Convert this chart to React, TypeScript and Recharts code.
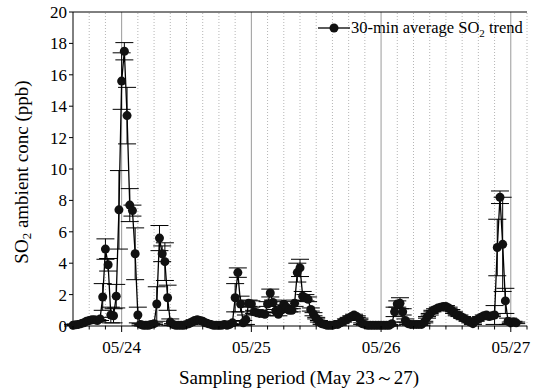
import {
  LineChart, Line, XAxis, YAxis, ErrorBar, ReferenceLine
} from 'recharts'

// 30-min averages, starting 05/23 15:00 (hours since start = index * 0.5)
const so2 = [
  0.05, 0.08, 0.1, 0.15, 0.2, 0.3, 0.35, 0.4, 0.4, 0.35,
  0.45, 1.85, 4.9, 3.9, 0.7, 0.65, 1.9, 7.4, 15.6, 17.5,
  13.4, 7.7, 7.35, 4.6, 0.7, 0.1, 0.05, 0.05, 0.05, 0.1,
  0.15, 1.4, 5.6, 4.6, 4.1, 1.8, 0.25, 0.1, 0.05, 0.05,
  0.05, 0.05, 0.1, 0.15, 0.25, 0.35, 0.4, 0.35, 0.3, 0.2,
  0.15, 0.1, 0.05, 0.05, 0.05, 0.05, 0.1, 0.05, 0.1, 0.2,
  1.8, 3.4, 1.4, 0.2, 0.4, 1.45, 1.4, 0.9, 0.85, 0.8,
  0.8, 0.75, 1.4, 2.1, 1.5, 0.95, 0.75, 1.0, 1.4, 1.2,
  1.0, 1.0, 1.45, 3.4, 3.7, 1.9, 1.8, 1.7, 1.05, 0.75,
  0.5, 0.3, 0.15, 0.1, 0.05, 0.05, 0.05, 0.1, 0.1, 0.2,
  0.3, 0.4, 0.5, 0.6, 0.7, 0.6, 0.45, 0.15, 0.1, 0.05,
  0.05, 0.05, 0.05, 0.05, 0.05, 0.05, 0.05, 0.05, 0.15, 0.9,
  1.4, 1.45, 0.9, 0.35, 0.15, 0.1, 0.1, 0.1, 0.1, 0.1,
  0.25, 0.55, 0.75, 0.95, 1.05, 1.15, 1.2, 1.25, 1.25, 1.15,
  1.0, 0.85, 0.7, 0.65, 0.55, 0.45, 0.35, 0.25, 0.15, 0.35,
  0.45, 0.55, 0.65, 0.7, 0.6, 0.65, 0.7, 5.0, 8.2, 5.2,
  1.6, 0.3, 0.2, 0.25, 0.2,
]

// standard deviation shown as error bars
const so2Err = [
  0.05, 0.05, 0.05, 0.05, 0.05, 0.05, 0.05, 0.05, 0.05, 0.05,
  0.1, 0.85, 0.65, 0.4, 0.5, 0.45, 0.75, 2.5, 1.8, 0.55,
  1.8, 1.05, 0.35, 1.65, 0.5, 0.05, 0.05, 0.05, 0.05, 0.05,
  0.05, 1.1, 0.8, 0.5, 1.2, 0.8, 0.2, 0.05, 0.05, 0.05,
  0.05, 0.05, 0.05, 0.05, 0.05, 0.05, 0.05, 0.05, 0.05, 0.05,
  0.05, 0.05, 0.05, 0.05, 0.05, 0.05, 0.05, 0.05, 0.05, 0.1,
  0.9, 0.3, 0.5, 0.15, 0.3, 0.2, 0.2, 0.1, 0.1, 0.1,
  0.1, 0.1, 0.15, 0.25, 0.15, 0.1, 0.1, 0.1, 0.15, 0.1,
  0.1, 0.1, 0.2, 0.6, 0.55, 0.3, 0.2, 0.15, 0.1, 0.1,
  0.05, 0.05, 0.05, 0.05, 0.05, 0.05, 0.05, 0.05, 0.05, 0.05,
  0.05, 0.05, 0.05, 0.05, 0.05, 0.05, 0.05, 0.05, 0.05, 0.05,
  0.05, 0.05, 0.05, 0.05, 0.05, 0.05, 0.05, 0.05, 0.1, 0.3,
  0.2, 0.35, 0.2, 0.1, 0.05, 0.05, 0.05, 0.05, 0.05, 0.05,
  0.05, 0.05, 0.05, 0.05, 0.05, 0.05, 0.05, 0.05, 0.05, 0.05,
  0.05, 0.05, 0.05, 0.05, 0.05, 0.05, 0.05, 0.05, 0.05, 0.05,
  0.05, 0.05, 0.05, 0.05, 0.05, 0.05, 0.6, 1.8, 0.4, 3.0,
  0.8, 0.2, 0.05, 0.05, 0.05,
]

const dayHours = [9, 33, 57, 81]
const dayLabels = ['05/24', '05/25', '05/26', '05/27']
const gridHours = [3, 6, 12, 15, 18, 21, 24, 27, 30, 36, 39, 42, 45, 48, 51, 54, 60, 63, 66, 69, 72, 75, 78, 84]
const xTicks = [0, 3, 6, 9, 12, 15, 18, 21, 24, 27, 30, 33, 36, 39, 42, 45, 48, 51, 54, 57, 60, 63, 66, 69, 72, 75, 78, 81, 84]
const yTicks = [0, 2, 4, 6, 8, 10, 12, 14, 16, 18, 20]

const data = so2.map((v, i) => ({ t: i * 0.5, so2: v, err: so2Err[i] }))

const FONT = '"Liberation Serif", "Times New Roman", serif'

function XTick(props: any) {
  const { x, payload } = props
  const axisY = 326
  const idx = dayHours.indexOf(payload.value)
  const major = idx >= 0
  return (
    <g>
      <line x1={x} x2={x} y1={axisY} y2={axisY + (major ? 6 : 3.5)} stroke="#000" strokeWidth={1} />
      {major && (
        <text x={x} y={axisY + 27} textAnchor="middle" fontSize={17} fontFamily={FONT} fill="#000">
          {dayLabels[idx]}
        </text>
      )}
    </g>
  )
}

function LegendBox() {
  return (
    <div style={{
      position: 'absolute', left: 318, top: 19, display: 'flex', alignItems: 'center',
      fontFamily: FONT, fontSize: 16.5, color: '#000', whiteSpace: 'nowrap', lineHeight: '18px'
    }}>
      <svg width={32} height={12} style={{ marginRight: 1 }}>
        <line x1={0} x2={32} y1={6} y2={6} stroke="#000" strokeWidth={1.3} />
        <circle cx={16} cy={6} r={4.5} fill="#111" />
      </svg>
      <span>30-min average SO<sub style={{ fontSize: 11, lineHeight: 0 }}>2</sub> trend</span>
    </div>
  )
}

export default function App() {
  return (
    <div style={{ position: 'absolute', left: 0, top: 0, width: 533, height: 390, background: '#fff' }}>
      <LineChart width={533} height={390} data={data} margin={{ top: 12, right: 6, left: 0, bottom: 0 }}>
        {gridHours.map(h => (
          <ReferenceLine key={'g' + h} x={h} stroke="#b5b5b5" strokeDasharray="1 2" strokeWidth={1} />
        ))}
        {dayHours.map(h => (
          <ReferenceLine key={'d' + h} x={h} stroke="#9a9a9a" strokeWidth={1} />
        ))}
        <ReferenceLine y={20} stroke="#000" strokeWidth={1} />
        <XAxis
          dataKey="t" type="number" domain={[0, 84]} ticks={xTicks} interval={0}
          tick={<XTick />} tickLine={false} axisLine={{ stroke: '#000' }} height={64}
          label={{
            content: () => (
              <text x={299} y={384} textAnchor="middle" fontSize={19} fontFamily={FONT} fill="#000">
                Sampling period (May 23～27)
              </text>
            )
          }}
        />
        <YAxis
          domain={[0, 20]} ticks={yTicks} interval={0} width={73} tickSize={4} tickMargin={2}
          tick={{ fontSize: 17, fontFamily: FONT, fill: '#000' }}
          axisLine={{ stroke: '#000' }} tickLine={{ stroke: '#000' }}
          label={{
            content: () => (
              <text transform="rotate(-90, 21, 172)" x={21} y={172} textAnchor="middle" dominantBaseline="central"
                fontSize={19} fontFamily={FONT} fill="#000">
                SO<tspan dy={5} fontSize={13}>2</tspan><tspan dy={-5}> ambient conc (ppb)</tspan>
              </text>
            )
          }}
        />
        <Line
          type="linear" dataKey="so2" stroke="#000" strokeWidth={1.3}
          dot={{ r: 4.5, fill: '#111', stroke: '#111', strokeWidth: 0 }}
          activeDot={false} isAnimationActive={false}
        >
          <ErrorBar dataKey="err" direction="y" width={9} stroke="#000" strokeWidth={1} isAnimationActive={false} />
        </Line>
      </LineChart>
      <LegendBox />
    </div>
  )
}
